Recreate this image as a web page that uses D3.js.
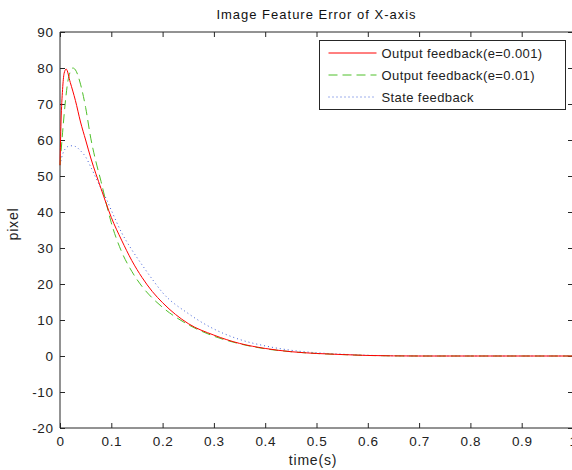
<!DOCTYPE html>
<html>
<head>
<meta charset="utf-8">
<script src="https://cdn.jsdelivr.net/npm/d3@7"></script>
<style>
  body { margin: 0; background: #fff; }
  svg { display: block; font-family: "Liberation Sans", Arial, sans-serif; }
</style>
</head>
<body>
<div id="container"></div>
<script>
/* DATA */
const titleText = "Image Feature Error of X-axis";
const xLabelText = "time(s)";
const yLabelText = "pixel";
const xTicks = [0, 0.1, 0.2, 0.3, 0.4, 0.5, 0.6, 0.7, 0.8, 0.9, 1];
const yTicks = [-20, -10, 0, 10, 20, 30, 40, 50, 60, 70, 80, 90];
const seriesNames = ["Output feedback(e=0.001)", "Output feedback(e=0.01)", "State feedback"];

const tRed = [0, 0.002, 0.005, 0.008, 0.012, 0.02, 0.03, 0.04, 0.05, 0.06, 0.08, 0.1, 0.12, 0.14, 0.16, 0.18, 0.2, 0.25, 0.3, 0.35, 0.4, 0.45, 0.5, 0.55, 0.6, 0.7, 0.8, 0.9, 1];
const vRed = [53, 65, 74, 78.5, 79.7, 76, 71, 65, 60, 55, 46.5, 38.5, 32.2, 26.5, 21.8, 17.9, 14.8, 9, 5.8, 3.5, 2.1, 1.2, 0.7, 0.4, 0.15, 0, 0, 0, 0];

const tGreen = [0, 0.005, 0.01, 0.015, 0.02, 0.025, 0.03, 0.04, 0.05, 0.06, 0.07, 0.08, 0.09, 0.1, 0.12, 0.14, 0.16, 0.18, 0.2, 0.25, 0.3, 0.35, 0.4, 0.45, 0.5, 0.55, 0.6, 0.7, 0.8, 0.9, 1];
const vGreen = [53, 62, 70, 76, 79, 80, 79.5, 75.5, 69, 60.5, 54, 48.5, 42.5, 37, 29, 23.5, 19.3, 16.1, 13.5, 8.7, 5.5, 3.4, 2, 1.2, 0.7, 0.4, 0.15, 0, 0, 0, 0];

const tBlue = [0, 0.005, 0.01, 0.02, 0.03, 0.04, 0.05, 0.06, 0.07, 0.08, 0.09, 0.1, 0.12, 0.14, 0.16, 0.18, 0.2, 0.25, 0.3, 0.35, 0.4, 0.45, 0.5, 0.55, 0.6, 0.7, 0.8, 0.9, 1];
const vBlue = [53, 56, 57.5, 58.4, 58.2, 57, 55.3, 52.5, 49.5, 46.5, 43.7, 40.5, 34.3, 29.5, 25.3, 21.3, 17.6, 11.8, 7.5, 4.6, 2.8, 1.6, 0.9, 0.5, 0.2, 0, 0, 0, 0];

/* CONSTANTS */
const width = 572, height = 470;
const margin = {top: 32, right: -1, bottom: 42, left: 60};
const tickFont = "13.5px";

const series = [
  {name: seriesNames[0], t: tRed, v: vRed, color: "#ff0000", dash: "none"},
  {name: seriesNames[1], t: tGreen, v: vGreen, color: "#4fc02a", dash: "9,5"},
  {name: seriesNames[2], t: tBlue, v: vBlue, color: "#3f5fd8", dash: "1,3"}
];

/* SCALES */
const xScale = d3.scaleLinear()
  .domain([0, 1])
  .range([margin.left, width - margin.right]);

const yScale = d3.scaleLinear()
  .domain([-20, 90])
  .range([height - margin.bottom, margin.top]);

/* SVG */
const svg = d3.select("#container")
  .append("svg")
  .attr("width", width)
  .attr("height", height);

svg.append("rect")
  .attr("width", width).attr("height", height)
  .attr("fill", "#fff");

// AXES (ticks inward, matlab style)
const axisColor = "#262626";

const xAxis = d3.axisBottom(xScale).tickValues(xTicks).tickSize(-5).tickPadding(8)
  .tickFormat(d => String(d));
const xAxisTop = d3.axisTop(xScale).tickValues(xTicks).tickSize(-5).tickFormat("");
const yAxis = d3.axisLeft(yScale).tickValues(yTicks).tickSize(-5).tickPadding(6.5)
  .tickFormat(d => String(d));
const yAxisRight = d3.axisRight(yScale).tickValues(yTicks).tickSize(-5).tickFormat("");

function styleAxis(g) {
  g.select(".domain").attr("stroke", axisColor);
  g.selectAll(".tick line").attr("stroke", axisColor);
  g.selectAll(".tick text")
    .attr("fill", "#222")
    .style("font-size", tickFont)
    .style("letter-spacing", "0.6px")
    .style("font-family", "Liberation Sans, Arial, sans-serif");
}

svg.append("g")
  .attr("transform", `translate(0, ${height - margin.bottom})`)
  .call(xAxis).call(styleAxis)
  .call(g => g.select(".domain").attr("d", `M${margin.left},0H${width - margin.right}`));

svg.append("g")
  .attr("transform", `translate(0, ${margin.top})`)
  .call(xAxisTop).call(styleAxis)
  .call(g => g.select(".domain").attr("d", `M${margin.left},0H${width - margin.right}`));

svg.append("g")
  .attr("transform", `translate(${margin.left}, 0)`)
  .call(yAxis).call(styleAxis)
  .call(g => g.select(".domain").attr("d", `M0,${margin.top}V${height - margin.bottom}`));

svg.append("g")
  .attr("transform", `translate(${width - margin.right}, 0)`)
  .call(yAxisRight).call(styleAxis);

// LINES
const lineGen = d3.line()
  .x(d => xScale(d[0]))
  .y(d => yScale(d[1]))
  .curve(d3.curveMonotoneX);

svg.append("g")
  .selectAll("path")
  .data(series.slice().reverse())
  .join("path")
  .attr("fill", "none")
  .style("stroke", d => d.color)
  .style("stroke-width", 1)
  .style("stroke-dasharray", d => d.dash)
  .attr("d", d => lineGen(d.t.map((t, i) => [t, d.v[i]])));

// TITLE + LABELS
svg.append("text")
  .attr("x", (margin.left + width - margin.right) / 2)
  .attr("y", 19)
  .attr("text-anchor", "middle")
  .attr("fill", "#111")
  .style("font-size", "13px")
  .style("letter-spacing", "1px")
  .text(titleText);

svg.append("text")
  .attr("x", 313)
  .attr("y", 465)
  .attr("text-anchor", "middle")
  .attr("fill", "#222")
  .style("font-size", "14px")
  .style("letter-spacing", "0.8px")
  .text(xLabelText);

svg.append("text")
  .attr("transform", `translate(18, 224) rotate(-90)`)
  .attr("text-anchor", "middle")
  .attr("fill", "#222")
  .style("font-size", "14px")
  .style("letter-spacing", "0.8px")
  .text(yLabelText);

// LEGEND
const legend = svg.append("g").attr("transform", "translate(319.5, 40.5)");
legend.append("rect")
  .attr("width", 246).attr("height", 69)
  .attr("fill", "#fff")
  .attr("stroke", axisColor);

const items = legend.selectAll("g.item")
  .data(series)
  .join("g")
  .attr("class", "item")
  .attr("transform", (d, i) => `translate(0, ${12.5 + i * 22})`);

items.append("line")
  .attr("x1", 9).attr("x2", 57)
  .attr("y1", 0).attr("y2", 0)
  .style("stroke", d => d.color)
  .style("stroke-width", 1)
  .style("stroke-dasharray", d => d.dash);

items.append("text")
  .attr("x", 62)
  .attr("dy", "0.36em")
  .attr("fill", "#222")
  .style("font-size", "13px")
  .style("letter-spacing", "0.4px")
  .text(d => d.name);
</script>
</body>
</html>
